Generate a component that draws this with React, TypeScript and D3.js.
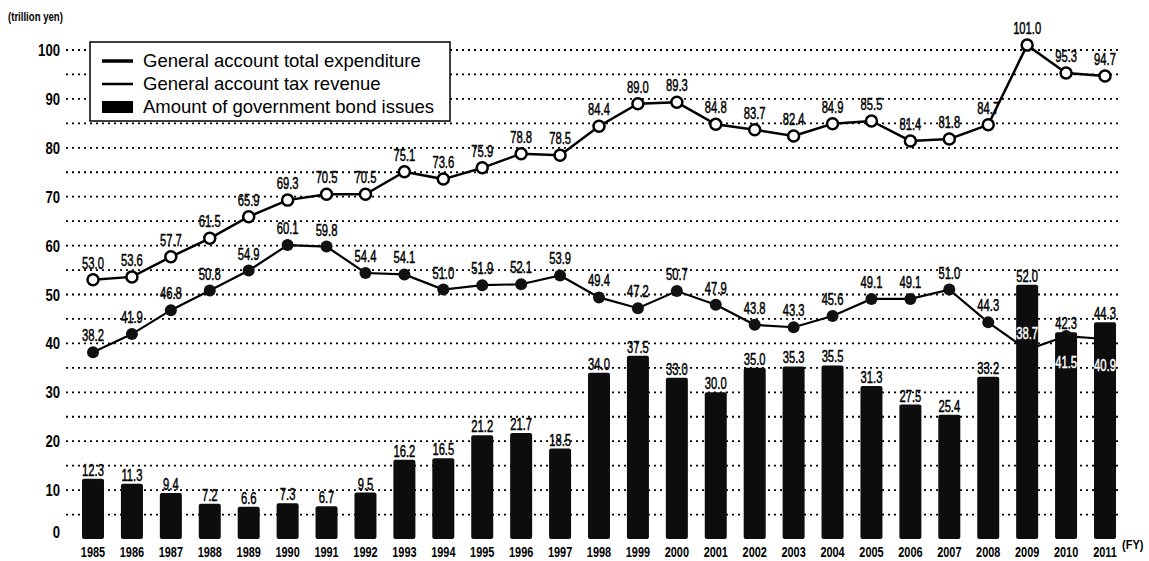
import { useEffect, useRef } from "react";
import * as d3 from "d3";

const years = [
  1985, 1986, 1987, 1988, 1989, 1990, 1991, 1992, 1993, 1994, 1995, 1996, 1997, 1998,
  1999, 2000, 2001, 2002, 2003, 2004, 2005, 2006, 2007, 2008, 2009, 2010, 2011,
];

const expenditure = [
  53.0, 53.6, 57.7, 61.5, 65.9, 69.3, 70.5, 70.5, 75.1, 73.6, 75.9, 78.8, 78.5, 84.4,
  89.0, 89.3, 84.8, 83.7, 82.4, 84.9, 85.5, 81.4, 81.8, 84.7, 101.0, 95.3, 94.7,
];

const taxRevenue = [
  38.2, 41.9, 46.8, 50.8, 54.9, 60.1, 59.8, 54.4, 54.1, 51.0, 51.9, 52.1, 53.9, 49.4,
  47.2, 50.7, 47.9, 43.8, 43.3, 45.6, 49.1, 49.1, 51.0, 44.3, 38.7, 41.5, 40.9,
];

const bondIssues = [
  12.3, 11.3, 9.4, 7.2, 6.6, 7.3, 6.7, 9.5, 16.2, 16.5, 21.2, 21.7, 18.5, 34.0, 37.5,
  33.0, 30.0, 35.0, 35.3, 35.5, 31.3, 27.5, 25.4, 33.2, 52.0, 42.3, 44.3,
];

const yTicks = [0, 10, 20, 30, 40, 50, 60, 70, 80, 90, 100];
const gridValues = d3.range(5, 101, 5);

const legendItems = [
  "General account total expenditure",
  "General account tax revenue",
  "Amount of government bond issues",
];

// tax labels that sit below their marker (inside the bar)
const taxLabelBelow = new Set([2010, 2011]);

const W = 1149;
const H = 561;
const FONT = "'Liberation Sans', Arial, sans-serif";

type G = d3.Selection<SVGGElement, unknown, null, undefined>;

// condensed text: the scan uses a narrow face, so squeeze Liberation Sans horizontally
function narrowText(
  g: G,
  x: number,
  y: number,
  s: string,
  opts: { size: number; sx: number; bold?: boolean; anchor?: string; fill?: string; heavy?: boolean }
) {
  const fill = opts.fill ?? "#000";
  g.append("text")
    .attr("transform", `translate(${x},${y}) scale(${opts.sx},1)`)
    .attr("text-anchor", opts.anchor ?? "middle")
    .attr("font-family", FONT)
    .attr("font-weight", opts.bold ? "bold" : "normal")
    .attr("font-size", opts.size)
    .attr("fill", fill)
    .attr("stroke", opts.heavy ? fill : "none")
    .attr("stroke-width", opts.heavy ? 0.5 : 0)
    .text(s);
}

export default function App() {
  const ref = useRef<SVGSVGElement>(null);

  useEffect(() => {
    if (!ref.current) return;
    const svg = d3.select(ref.current);
    svg.selectAll("*").remove();

    const x = d3.scalePoint<number>().domain(years).range([93, 1105]);
    const y = d3.scaleLinear().domain([0, 100]).range([539, 50]);
    const barW = 22;
    const idx = d3.range(years.length);
    const lbl = { size: 17, sx: 0.66, heavy: true };

    // dotted grid
    svg.append("g")
      .selectAll("line")
      .data(gridValues)
      .join("line")
      .attr("x1", 66)
      .attr("x2", 1120)
      .attr("y1", (d) => y(d))
      .attr("y2", (d) => y(d))
      .attr("stroke", "#000")
      .attr("stroke-width", 1.8)
      .attr("stroke-dasharray", "2,4");

    const axisG = svg.append("g") as G;
    yTicks.forEach((d) =>
      narrowText(axisG, 60, d === 0 ? y(d) - 1 : y(d) + 6, String(d), {
        size: 16,
        sx: 0.82,
        bold: true,
        anchor: "end",
      })
    );
    narrowText(axisG, 8, 21, "(trillion yen)", { size: 12, sx: 0.8, bold: true, anchor: "start" });
    years.forEach((d) => narrowText(axisG, x(d)!, 557, String(d), { size: 14, sx: 0.78, bold: true }));
    narrowText(axisG, 1122, 549, "(FY)", { size: 13, sx: 0.85, bold: true, anchor: "start" });

    // tax revenue line (under the bars)
    const taxLine = d3.line<number>().x((i) => x(years[i])!).y((i) => y(taxRevenue[i]));
    svg.append("path")
      .attr("d", taxLine(idx))
      .attr("fill", "none")
      .attr("stroke", "#000")
      .attr("stroke-width", 2.2);
    svg.append("g")
      .selectAll("circle")
      .data(idx)
      .join("circle")
      .attr("cx", (i) => x(years[i])!)
      .attr("cy", (i) => y(taxRevenue[i]))
      .attr("r", 6)
      .attr("fill", "#111");

    // bars
    svg.append("g")
      .selectAll("rect")
      .data(idx)
      .join("rect")
      .attr("x", (i) => x(years[i])! - barW / 2)
      .attr("y", (i) => y(bondIssues[i]))
      .attr("width", barW)
      .attr("height", (i) => y(0) - y(bondIssues[i]))
      .attr("rx", 2)
      .attr("fill", "#0d0d0d");

    const labelG = svg.append("g") as G;
    idx.forEach((i) => {
      const cx = x(years[i])!;
      narrowText(labelG, cx, y(bondIssues[i]) - 3, bondIssues[i].toFixed(1), lbl);
      const below = taxLabelBelow.has(years[i]);
      narrowText(labelG, cx, y(taxRevenue[i]) + (below ? 32 : -11), taxRevenue[i].toFixed(1), {
        ...lbl,
        fill: bondIssues[i] > taxRevenue[i] - 4 ? "#fff" : "#000",
      });
    });

    // expenditure line
    const expLine = d3.line<number>().x((i) => x(years[i])!).y((i) => y(expenditure[i]));
    svg.append("path")
      .attr("d", expLine(idx))
      .attr("fill", "none")
      .attr("stroke", "#000")
      .attr("stroke-width", 2.5);
    svg.append("g")
      .selectAll("circle")
      .data(idx)
      .join("circle")
      .attr("cx", (i) => x(years[i])!)
      .attr("cy", (i) => y(expenditure[i]))
      .attr("r", 5.5)
      .attr("fill", "#fff")
      .attr("stroke", "#000")
      .attr("stroke-width", 2.5);
    const expG = svg.append("g") as G;
    idx.forEach((i) =>
      narrowText(expG, x(years[i])!, y(expenditure[i]) - 11, expenditure[i].toFixed(1), lbl)
    );

    // legend
    const lg = svg.append("g");
    lg.append("rect")
      .attr("x", 90)
      .attr("y", 42)
      .attr("width", 360)
      .attr("height", 79)
      .attr("fill", "#fff")
      .attr("stroke", "#000")
      .attr("stroke-width", 1.5);
    legendItems.forEach((label, i) => {
      const cy = 61 + i * 23;
      if (i === 2) {
        lg.append("rect").attr("x", 102).attr("y", cy - 6).attr("width", 31).attr("height", 12).attr("fill", "#000");
      } else {
        lg.append("line")
          .attr("x1", 102)
          .attr("x2", 133)
          .attr("y1", cy)
          .attr("y2", cy)
          .attr("stroke", "#000")
          .attr("stroke-width", i === 0 ? 3.5 : 2.5);
      }
      lg.append("text")
        .attr("x", 143)
        .attr("y", cy + 6)
        .attr("font-family", FONT)
        .attr("font-size", 18.5)
        .text(label);
    });
  }, []);

  return (
    <svg
      ref={ref}
      width={W}
      height={H}
      style={{ position: "absolute", left: 0, top: 0, background: "#fff" }}
    />
  );
}
